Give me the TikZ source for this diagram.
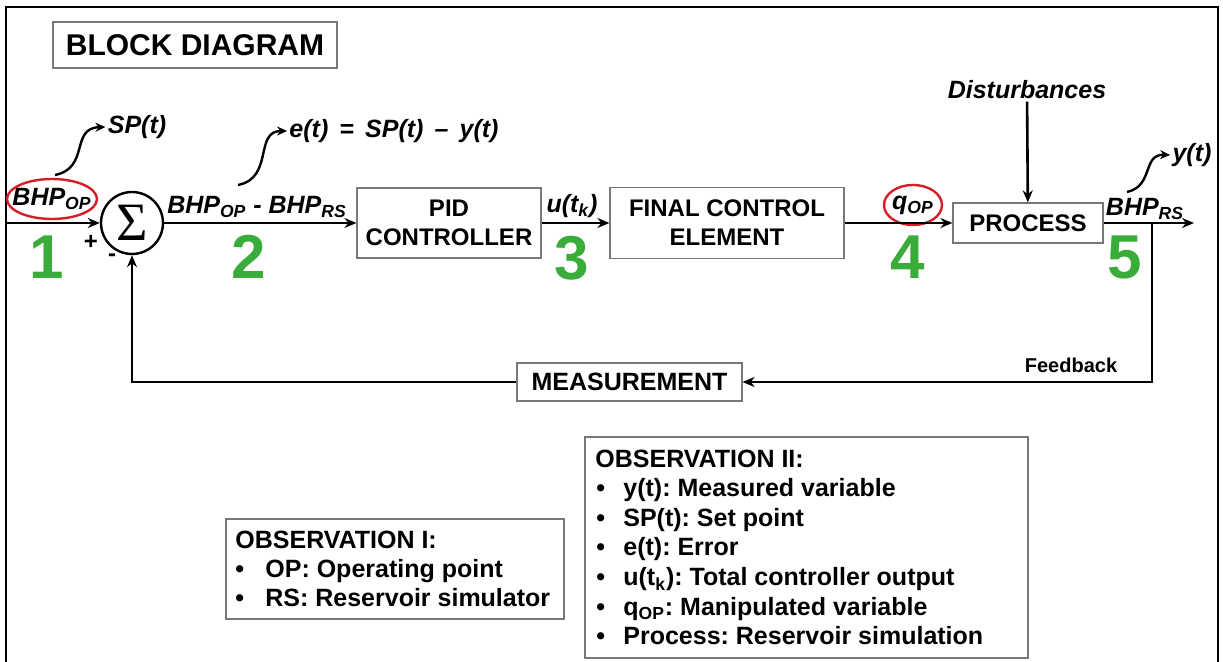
\documentclass[tikz,border=0pt]{standalone}
\usepackage{fontspec}
\setmainfont{Liberation Sans}
\newfontfamily\serifgreek{Liberation Serif}
\usetikzlibrary{arrows.meta}
\definecolor{numgreen}{RGB}{58,172,58}
\definecolor{ringred}{RGB}{214,30,40}
\definecolor{boxgray}{RGB}{120,120,120}
\frenchspacing

\begin{document}
\begin{tikzpicture}[x=0.5pt,y=-0.5pt,
  blk/.style={draw=boxgray, line width=0.6pt, fill=white, align=center, inner sep=0pt,
    font=\bfseries\fontsize{12}{14.5}\selectfont},
  sig/.style={font=\bfseries\itshape\fontsize{12.5}{14}\selectfont, inner sep=1pt},
  num/.style={font=\bfseries\fontsize{31}{31}\selectfont, text=numgreen, inner sep=0pt},
  pm/.style={font=\bfseries\fontsize{12}{12}\selectfont, inner sep=0pt},
  wire/.style={line width=1.3pt, -{Stealth[length=6pt,width=5pt]}},
  curl/.style={line width=1.2pt, -{Stealth[length=5pt,width=4.5pt]}},
  ring/.style={draw=ringred, line width=1.2pt},
  obsline/.style={font=\bfseries\fontsize{12.5}{14}\selectfont, anchor=base west, inner sep=0pt},
  obsbox/.style={draw=boxgray, line width=0.6pt, inner sep=0pt}
]
\clip (0,0) rectangle (1223,662);
\fill[white] (0,0) rectangle (1223,662);

% outer frame, open at the bottom
\draw[line width=1pt] (6,700) -- (6,7) -- (1218,7) -- (1218,700);

% title
\node[blk, minimum width=142pt, minimum height=23pt, font=\bfseries\fontsize{15}{17}\selectfont]
  (title) at (195,45) {BLOCK DIAGRAM};

% summing junction
\node[draw, circle, line width=1.2pt, minimum size=31pt, inner sep=0pt] (sum) at (132,223)
  {\serifgreek\fontsize{27}{27}\selectfont Σ};

% blocks
\node[blk, minimum width=92pt, minimum height=35pt] (pid) at (449,223) {PID\\CONTROLLER};
\node[blk, minimum width=117pt, minimum height=35.5pt] (fce) at (727,223) {FINAL CONTROL\\ELEMENT};
\node[blk, minimum width=75pt, minimum height=20pt] (proc) at (1028,223) {PROCESS};
\node[blk, minimum width=112.5pt, minimum height=19pt, font=\bfseries\fontsize{12.5}{14.5}\selectfont]
  (meas) at (629.5,382) {MEASUREMENT};

% signal labels
\node[sig] (bhpop) at (52,199) {BHP\textsubscript{OP}};
\draw[ring] (bhpop.center) ellipse [x radius=22.5pt, y radius=10pt];
\node[sig] (sp) at (137,127) {SP(t)};
\node[sig] (err) at (257,207) {BHP\textsubscript{OP} - BHP\textsubscript{RS}};
\node[sig] (et) at (394,131) {e(t) \,=\, SP(t) \,–\, y(t)};
\node[sig] (ut) at (572,206) {u(t\textsubscript{k})};
\node[sig] (qop) at (913,205) {q\textsubscript{OP}};
\draw[ring] (qop.center) ellipse [x radius=14.5pt, y radius=10pt];
\node[sig] (dist) at (1027,90) {Disturbances};
\node[sig] (bhprs) at (1145,209) {BHP\textsubscript{RS}};
\node[sig] (yt) at (1192,155) {y(t)};
\node[font=\bfseries\fontsize{10}{12}\selectfont, inner sep=0pt] (fb) at (1071,365) {Feedback};

% signs at the junction
\node[pm] (plus) at (91,242) {+};
\node[pm] (minus) at (112,258) {-};

% numbered stations
\node[num] (n1) at (47,257) {1};
\node[num] (n2) at (249,257) {2};
\node[num] (n3) at (572,258) {3};
\node[num] (n4) at (908,257) {4};
\node[num] (n5) at (1125,257) {5};

% forward path
\coordinate (in) at (6,223);
\coordinate (out) at (1194,223);
\coordinate (tap) at (1152,223);
\draw[wire] (in) -- (sum);
\draw[wire] (sum) -- (pid);
\draw[wire] (pid) -- (fce);
\draw[wire] (fce) -- (proc);
\draw[wire] (proc) -- (out);
\draw[wire] (dist) -- (proc);

% feedback path
\draw[wire] (tap) |- (meas.east);
\draw[wire] (meas.west) -| (sum.south);

% curly pointers to signal names
\coordinate (c1) at (55,175);
\coordinate (c2) at (238,185);
\coordinate (c3) at (1127,192);
\draw[curl] (c1) .. controls (90,168) and (70,128) .. (sp.west);
\draw[curl] (c2) .. controls (274,178) and (254,131) .. (et.west);
\draw[curl] (c3) .. controls (1154,186) and (1142,154) .. (yt.west);

% observation notes
\node[obsbox, minimum width=169pt, minimum height=50pt] (obs1) at (395,569) {};
\node[obsline] (o1t) at (235,549) {OBSERVATION I:};
\node[obsline] (o1a) at (235,578) {\makebox[15pt][l]{•}OP: Operating point};
\node[obsline] (o1b) at (235,607) {\makebox[15pt][l]{•}RS: Reservoir simulator};

\node[obsbox, minimum width=221.5pt, minimum height=110.5pt] (obs2) at (806.5,547.5) {};
\node[obsline] (o2t) at (595,468) {OBSERVATION II:};
\node[obsline] (o2a) at (596,497) {\makebox[13.5pt][l]{•}y(t): Measured variable};
\node[obsline] (o2b) at (596,526.5) {\makebox[13.5pt][l]{•}SP(t): Set point};
\node[obsline] (o2c) at (596,556) {\makebox[13.5pt][l]{•}e(t): Error};
\node[obsline] (o2d) at (596,586) {\makebox[13.5pt][l]{•}u(t\textsubscript{k}): Total controller output};
\node[obsline] (o2e) at (596,615.5) {\makebox[13.5pt][l]{•}q\textsubscript{OP}: Manipulated variable};
\node[obsline] (o2f) at (596,645) {\makebox[13.5pt][l]{•}Process: Reservoir simulation};
\end{tikzpicture}
\end{document}
